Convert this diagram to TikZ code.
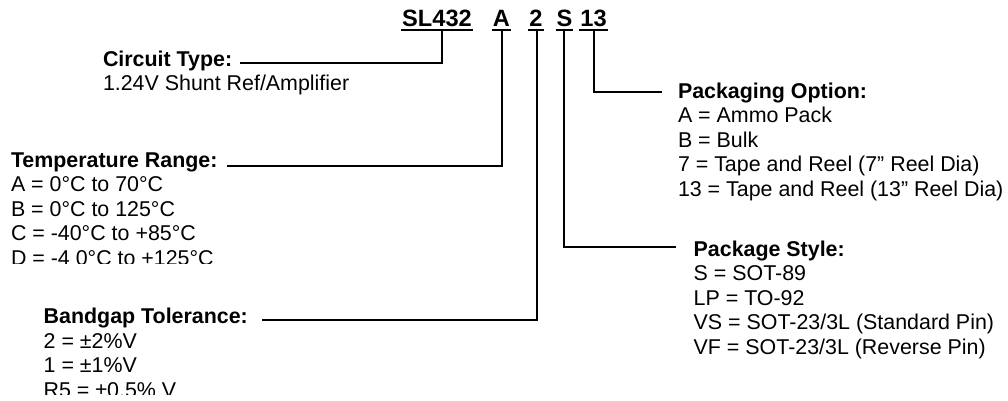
\documentclass[tikz,border=0pt]{standalone}
\usepackage{fontspec}
\setmainfont{Liberation Sans}
\usetikzlibrary{positioning}

\begin{document}
\begin{tikzpicture}[x=0.5pt, y=-0.5pt, line width=1pt,
    code/.style={font=\fontsize{11.8}{14}\selectfont\bfseries, inner sep=0pt, anchor=base},
    block/.style={font=\fontsize{10.7}{12.25}\selectfont, align=left, inner sep=0pt,
        anchor=north west, yshift=7.7pt},
    uline/.style={line width=1pt},
    lead/.style={line width=1pt}]
    \useasboundingbox (0,0) rectangle (1008,401);
    % part number
    \node[code] (sl) at (437,27) {SL432};
    \node[code] (a) at (501.5,27) {A};
    \node[code] (two) at (536,27) {2};
    \node[code] (s) at (564.5,27) {S};
    \node[code] (reel) at (593.5,27) {13};
    \foreach \n in {sl,a,two,s,reel}
        \draw[uline] ([yshift=-1.5pt]\n.base west) -- ([yshift=-1.5pt]\n.base east);
    % option blocks
    \node[block] (ct) at (102,65) {\textbf{Circuit Type:}\\1.24V Shunt Ref/Amplifier};
    \begin{scope}
        \clip (0,0) rectangle (400,263.5);
        \node[block] (tr) at (10,167) {\textbf{Temperature Range:}\\A = 0°C to 70°C\\B = 0°C to 125°C\\C = -40°C to +85°C\\D = -4 0°C to +125°C};
    \end{scope}
    \begin{scope}
        \clip (0,280) rectangle (400,394);
        \node[block] (bt) at (42.7,322.5) {\textbf{Bandgap Tolerance:}\\2 = ±2\%V\\1 = ±1\%V\\R5 = ±0.5\% V};
    \end{scope}
    \node[block] (po) at (677,97) {\textbf{Packaging Option:}\\A = Ammo Pack\\B = Bulk\\7 = Tape and Reel (7” Reel Dia)\\13 = Tape and Reel (13” Reel Dia)};
    \node[block] (ps) at (692.7,255) {\textbf{Package Style:}\\S = SOT-89\\LP = TO-92\\VS = SOT-23/3L (Standard Pin)\\VF = SOT-23/3L (Reverse Pin)};
    % leaders
    \coordinate (ct-tip) at (240,63);
    \coordinate (tr-tip) at (227,166);
    \coordinate (bt-tip) at (262,320);
    \coordinate (ps-tip) at (676,247.3);
    \coordinate (po-tip) at (662,92);
    \draw[lead] ([xshift=2.5pt,yshift=-1.5pt]sl.base) |- (ct-tip);
    \draw[lead] ([yshift=-1.5pt]a.base) |- (tr-tip);
    \draw[lead] ([xshift=0.3pt,yshift=-1.5pt]two.base) |- (bt-tip);
    \draw[lead] ([xshift=-0.3pt,yshift=-1.5pt]s.base) |- (ps-tip);
    \draw[lead] ([yshift=-1.5pt]reel.base) |- (po-tip);
\end{tikzpicture}
\end{document}
